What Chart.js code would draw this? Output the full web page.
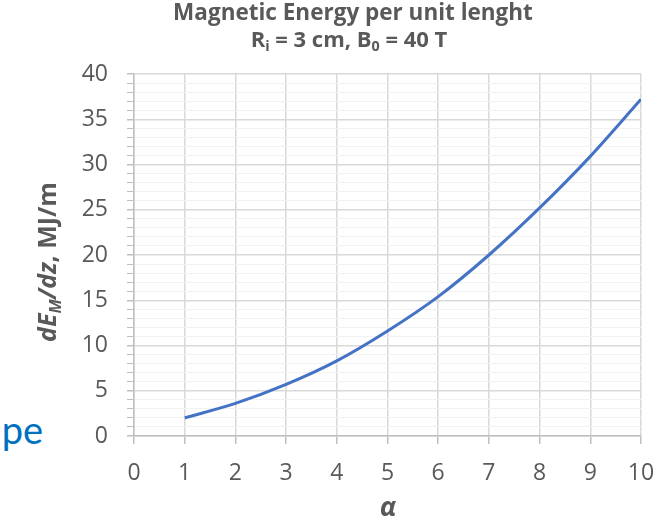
<!DOCTYPE html>
<html>
<head>
<meta charset="utf-8">
<script src="https://cdn.jsdelivr.net/npm/chart.js@4.4.0/dist/chart.umd.min.js"></script>
<style>
  html, body { margin: 0; padding: 0; background: #fff; }
  #wrap { position: relative; width: 654px; height: 518px; overflow: hidden; }
  #side { position: absolute; right: 611px; top: 410px; font: 38px/38px Lato, sans-serif; color: #0070C0; white-space: nowrap; }
  canvas { position: absolute; left: 0; top: 0; }
</style>
</head>
<body>
<div id="wrap">
  <div id="side">ape</div>
  <canvas id="energy-chart" width="654" height="518"></canvas>
</div>
<script>
// alpha values and energy per unit length (MJ/m)
const alphas = [1, 2, 3, 4, 5, 6, 7, 8, 9, 10];
const energy = [2.0, 3.6, 5.7, 8.3, 11.6, 15.4, 20.0, 25.2, 30.9, 37.2];
const xTicks = [0, 1, 2, 3, 4, 5, 6, 7, 8, 9, 10];
const yTicks = [0, 5, 10, 15, 20, 25, 30, 35, 40];

const textGray = '#595959';
const font = '"Open Sans", sans-serif';

// draw a run of pieces: {t, sub, italic}
function drawRuns(ctx, runs, size, x, y, align) {
    const piece = r => (r.italic ? 'italic ' : '') + 'bold ' + (r.sub ? size * 0.65 : size) + 'px ' + font;
    let total = 0;
    runs.forEach(r => { ctx.font = piece(r); total += ctx.measureText(r.t).width; });
    let cx = align === 'center' ? x - total / 2 : x;
    runs.forEach(r => {
        ctx.font = piece(r);
        ctx.fillText(r.t, cx, r.sub ? y + size * 0.18 : y);
        cx += ctx.measureText(r.t).width;
    });
}

const titlesPlugin = {
    id: 'titles',
    afterDraw(chart) {
        const ctx = chart.ctx;
        ctx.save();
        ctx.fillStyle = textGray;
        ctx.textAlign = 'left';
        ctx.textBaseline = 'alphabetic';
        drawRuns(ctx, [{t: 'Magnetic Energy per unit lenght'}], 22.5, 353, 20, 'center');
        drawRuns(ctx, [{t: 'R'}, {t: 'i', sub: true}, {t: ' = 3 cm, B'}, {t: '0', sub: true}, {t: ' = 40 T'}], 22, 349, 47, 'center');
        drawRuns(ctx, [{t: 'α', italic: true}], 27, 388, 516, 'center');
        ctx.translate(56, 262);
        ctx.rotate(-Math.PI / 2);
        drawRuns(ctx, [{t: 'dE', italic: true}, {t: 'M', sub: true, italic: true}, {t: '/dz', italic: true}, {t: ', MJ/m'}], 25, 0, 0, 'center');
        ctx.restore();
    }
};

const ctx = document.getElementById('energy-chart').getContext('2d');
const energyChart = new Chart(ctx, {
    type: 'line',
    data: {
        datasets: [{
            data: alphas.map((a, i) => ({x: a, y: energy[i]})),
            borderColor: '#4472C4',
            borderWidth: 3,
            pointRadius: 0,
            cubicInterpolationMode: 'monotone',
            fill: false
        }]
    },
    options: {
        responsive: false,
        animation: false,
        layout: { padding: { top: 74, right: 13, left: 0, bottom: 0 } },
        plugins: { legend: { display: false }, tooltip: { enabled: false } },
        scales: {
            x: {
                type: 'linear',
                min: 0,
                max: 10,
                afterBuildTicks: scale => { scale.ticks = xTicks.map(v => ({value: v})); },
                afterFit: scale => {
                    scale.height = 82;
                    scale.paddingLeft = 0;
                    scale.paddingRight = 0;
                },
                border: { color: '#bfbfbf', width: 1.5 },
                grid: { color: '#d9d9d9', lineWidth: 1.5, tickLength: 8, tickColor: '#bfbfbf' },
                ticks: { color: textGray, font: { family: font, size: 23 }, padding: 16, maxRotation: 0 }
            },
            y: {
                min: 0,
                max: 40,
                afterBuildTicks: scale => {
                    const t = [];
                    for (let v = 0; v <= 40; v++) t.push({value: v});
                    scale.ticks = t;
                },
                afterFit: scale => {
                    scale.width = 134;
                    scale.paddingTop = 0;
                    scale.paddingBottom = 0;
                },
                border: { color: '#bfbfbf', width: 1.5 },
                grid: {
                    color: c => c.tick && c.tick.value % 5 === 0 ? '#d9d9d9' : '#f2f2f2',
                    lineWidth: c => c.tick && c.tick.value % 5 === 0 ? 1.5 : 1,
                    tickLength: 7,
                    tickColor: '#bfbfbf'
                },
                ticks: {
                    color: textGray,
                    font: { family: font, size: 23 },
                    padding: 19,
                    autoSkip: false,
                    callback: v => yTicks.includes(v) ? String(v) : ''
                }
            }
        }
    },
    plugins: [titlesPlugin]
});
</script>
</body>
</html>
